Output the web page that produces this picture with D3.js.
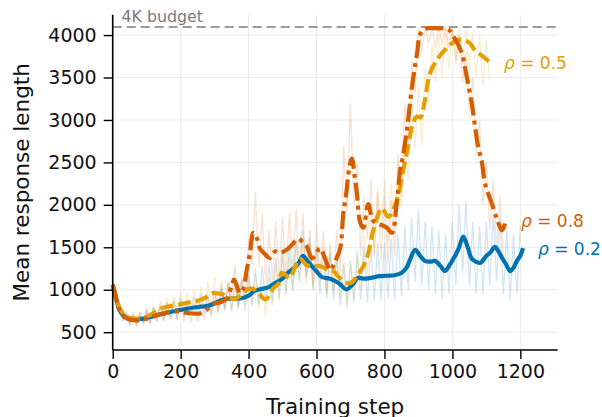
<!DOCTYPE html>
<html><head><meta charset="utf-8">
<script src="https://cdn.jsdelivr.net/npm/d3@7"></script>
<style>
body{margin:0;background:#fff;}
svg{font-family:"DejaVu Sans",sans-serif;}
</style></head>
<body><svg id="chart" width="602" height="417"></svg>
<script>
// ---------- data ----------
const xTicks = [0,200,400,600,800,1000,1200];
const yTicks = [500,1000,1500,2000,2500,3000,3500,4000];
const budget = 4096;
const seriesNames = ["ρ = 0.2","ρ = 0.5","ρ = 0.8"];
const seriesColors = ["#0072B2","#E69F00","#D55E00"];

// smoothed curves [step, value]
const smooth02 = [[0,1060],[10,900],[20,760],[35,680],[50,655],[70,650],[90,660],[110,680],[130,700],[160,730],[185,750],[210,770],[231,785],[260,800],[281,810],[305,850],[330,890],[355,895],[379,900],[400,930],[419,990],[440,1010],[460,1030],[478,1080],[500,1130],[516,1200],[535,1260],[550,1330],[560,1400],[575,1330],[595,1240],[616,1150],[640,1130],[665,1080],[688,1005],[710,1080],[722,1140],[740,1130],[760,1140],[785,1160],[810,1165],[830,1170],[851,1200],[865,1260],[875,1350],[890,1470],[905,1400],[919,1340],[935,1330],[949,1340],[965,1280],[978,1220],[990,1280],[1003,1365],[1018,1480],[1032,1625],[1045,1500],[1057,1365],[1070,1330],[1082,1317],[1100,1400],[1112,1440],[1125,1505],[1136,1450],[1146,1375],[1158,1300],[1170,1220],[1180,1260],[1190,1340],[1200,1400],[1208,1490]];
const smooth05 = [[0,1060],[10,920],[20,790],[35,700],[50,670],[70,660],[90,670],[110,700],[130,750],[150,790],[175,810],[200,830],[225,850],[251,870],[275,910],[296,960],[320,950],[340,920],[355,890],[375,930],[395,1000],[414,1010],[430,960],[443,900],[453,890],[473,1020],[486,1060],[498,1200],[510,1170],[522,1140],[535,1250],[551,1365],[571,1290],[590,1275],[610,1280],[630,1240],[649,1220],[668,1140],[690,1080],[705,1090],[720,1170],[734,1250],[750,1400],[767,1700],[780,1870],[792,1960],[812,1860],[836,2050],[855,2400],[870,2700],[884,2960],[896,3040],[906,3030],[919,3230],[934,3550],[958,3730],[987,3860],[1013,3940],[1037,3940],[1052,3900],[1067,3820],[1083,3770],[1096,3730],[1110,3680]];
const smooth08 = [[0,1060],[10,900],[20,760],[35,680],[50,650],[70,640],[90,650],[110,670],[130,700],[150,720],[170,740],[190,745],[213,730],[235,720],[257,720],[275,760],[296,830],[315,850],[337,900],[350,1050],[357,1120],[365,1050],[374,960],[385,1020],[394,1220],[404,1430],[414,1670],[425,1600],[433,1490],[448,1420],[463,1375],[478,1450],[492,1435],[512,1470],[530,1540],[545,1600],[560,1560],[571,1515],[586,1370],[596,1400],[610,1490],[625,1370],[640,1230],[650,1290],[660,1380],[670,1490],[679,1900],[688,2150],[697,2450],[704,2545],[712,2350],[719,2130],[728,1800],[738,1730],[752,2010],[767,1810],[787,1770],[807,1730],[822,1670],[836,2015],[846,2400],[852,2520],[866,2880],[881,3390],[896,3785],[904,4000],[915,4060],[928,4080],[958,4080],[987,4070],[1007,3960],[1028,3785],[1037,3620],[1046,3430],[1057,3195],[1067,2915],[1076,2680],[1087,2500],[1096,2250],[1116,2015],[1131,1835],[1146,1700],[1155,1780]];

// raw (unsmoothed) values, one every 10 steps starting at step 0
const raw02 = [1120,850,800,640,720,600,700,590,720,610,760,600,780,640,800,630,840,660,870,650,900,680,890,700,920,690,950,720,960,700,1000,740,1050,760,1080,750,1100,780,1120,760,1180,800,1250,820,1280,840,1300,860,1380,880,1450,950,1520,1000,1600,1100,1700,1150,1620,1000,1520,950,1450,900,1420,880,1400,820,1300,780,1350,850,1450,880,1500,850,1520,870,1550,880,1560,900,1600,880,1650,920,1750,1000,1850,1100,1950,1050,1800,1000,1750,950,1700,900,1650,950,1800,1050,2000,1200,2050,1050,1800,950,1750,950,1800,1050,1900,1100,1850,950,1700,880,1650,950,1750];
const raw05 = [1080,870,810,650,740,600,720,610,740,620,780,640,820,680,860,700,900,720,920,730,950,740,980,760,1000,770,1040,790,1100,820,1150,800,1120,790,1080,760,1060,780,1120,830,1200,850,1180,780,1100,700,1150,820,1300,900,1450,950,1400,980,1550,1100,1600,1050,1550,1000,1500,1050,1500,1000,1450,950,1400,900,1350,850,1300,880,1400,1000,1650,1150,1950,1400,2200,1650,2300,1550,2250,1700,2450,1950,2800,2300,3300,2650,3400,2700,3600,3200,3900,3450,4000,3500,4090,3600,4096,3650,4096,3650,4090,3600,4050,3500,4000,3400,3950,3450];
const raw08 = [1100,860,800,640,730,580,710,570,720,590,760,600,800,620,830,640,850,650,870,640,860,620,850,610,840,620,850,650,920,700,980,720,1020,760,1100,900,1300,820,1150,900,1600,1300,2150,1250,1900,1100,1700,1100,1800,1100,1850,1150,1900,1200,1950,1250,1900,1150,1700,1050,1800,1150,1700,950,1550,1000,1700,1200,2700,1900,3200,2000,2500,1400,2100,1600,2300,1400,2150,1350,2100,1300,2050,1400,2600,2100,3200,2600,3700,3300,4090,3800,4096,3900,4096,3850,4096,3900,4096,3850,4090,3700,4000,3450,3800,3100,3500,2600,3000,2000,2500,1700,2300,1450,2100,1400];

// ---------- chart ----------
const plot = {left:112.7, right:557.7, top:14.7, bottom:350};
const svg = d3.select("#chart");
const x = d3.scaleLinear().domain([0,1310]).range([plot.left, plot.right]);
const y = d3.scaleLinear().domain([290,4240]).range([plot.bottom, plot.top]);

// grid
const grid = svg.append("g");
grid.selectAll("line.vx").data(xTicks).join("line")
  .attr("x1", d=>x(d)).attr("x2", d=>x(d)).attr("y1", plot.top).attr("y2", plot.bottom)
  .attr("stroke","#ebebeb").attr("stroke-width",1);
grid.selectAll("line.hy").data(yTicks).join("line")
  .attr("y1", d=>y(d)).attr("y2", d=>y(d)).attr("x1", plot.left).attr("x2", plot.right)
  .attr("stroke","#ebebeb").attr("stroke-width",1);

// budget line
svg.append("line").attr("x1",plot.left).attr("x2",plot.right)
  .attr("y1",y(budget)).attr("y2",y(budget))
  .attr("stroke","#9a9a9a").attr("stroke-width",2).attr("stroke-dasharray","9,5");
svg.append("text").attr("x",121.5).attr("y",22).attr("font-size",15.8)
  .attr("fill","#7a7a7a").text("4K budget");

// raw lines
const rawSets = [raw02, raw05, raw08];
const rawLine = d3.line().x((d,i)=>x(i*10)).y(d=>y(d));
rawSets.forEach((r,k)=>{
  svg.append("path").attr("d", rawLine(r)).attr("fill","none")
    .attr("stroke", seriesColors[k]).attr("stroke-opacity",0.18).attr("stroke-width",1.3);
});

// smoothed lines
const sLine = d3.line().x(d=>x(d[0])).y(d=>y(d[1])).curve(d3.curveCatmullRom.alpha(0.5));
const smoothSets = [smooth02, smooth05, smooth08];
const dashes = [null, "13,5", "18,5,4,5"];
smoothSets.forEach((s,k)=>{
  const p = svg.append("path").attr("d", sLine(s)).attr("fill","none")
    .attr("stroke", seriesColors[k]).attr("stroke-width",4.2)
    .attr("stroke-linejoin","round");
  if (dashes[k]) p.attr("stroke-dasharray", dashes[k]);
});

// axes
const xAxis = d3.axisBottom(x).tickValues(xTicks).tickSize(9).tickPadding(6).tickFormat(d3.format("d"));
const yAxis = d3.axisLeft(y).tickValues(yTicks).tickSize(9).tickPadding(7).tickFormat(d3.format("d"));
const gx = svg.append("g").attr("transform",`translate(0,${plot.bottom})`).call(xAxis);
const gy = svg.append("g").attr("transform",`translate(${plot.left},0)`).call(yAxis);
[gx,gy].forEach(g=>{
  g.select(".domain").attr("stroke","#000").attr("stroke-width",1.6);
  g.selectAll(".tick line").attr("stroke","#000").attr("stroke-width",1.4);
  g.selectAll(".tick text").attr("font-size",19).attr("fill","#111")
    .attr("font-family","'DejaVu Sans',sans-serif");
});
gx.select(".domain").attr("d", `M${plot.left},0H${plot.right}`);
gy.select(".domain").attr("d", `M0,${plot.bottom}V${plot.top}`);

// axis titles
svg.append("text").attr("x",(plot.left+plot.right)/2).attr("y",414)
  .attr("text-anchor","middle").attr("font-size",21.5).attr("fill","#111").text("Training step");
svg.append("text").attr("transform",`translate(28.5,${(plot.top+plot.bottom)/2}) rotate(-90)`)
  .attr("text-anchor","middle").attr("font-size",21.5).attr("fill","#111").text("Mean response length");

// series labels
const labelPos = [[538,255],[504,69],[521,226.7]];
seriesNames.forEach((name,k)=>{
  const t = svg.append("text").attr("x",labelPos[k][0]).attr("y",labelPos[k][1])
    .attr("font-size",17).attr("fill",seriesColors[k]);
  t.append("tspan").attr("font-style","italic").text(name.slice(0,1));
  t.append("tspan").text(name.slice(1));
});
</script></body></html>
